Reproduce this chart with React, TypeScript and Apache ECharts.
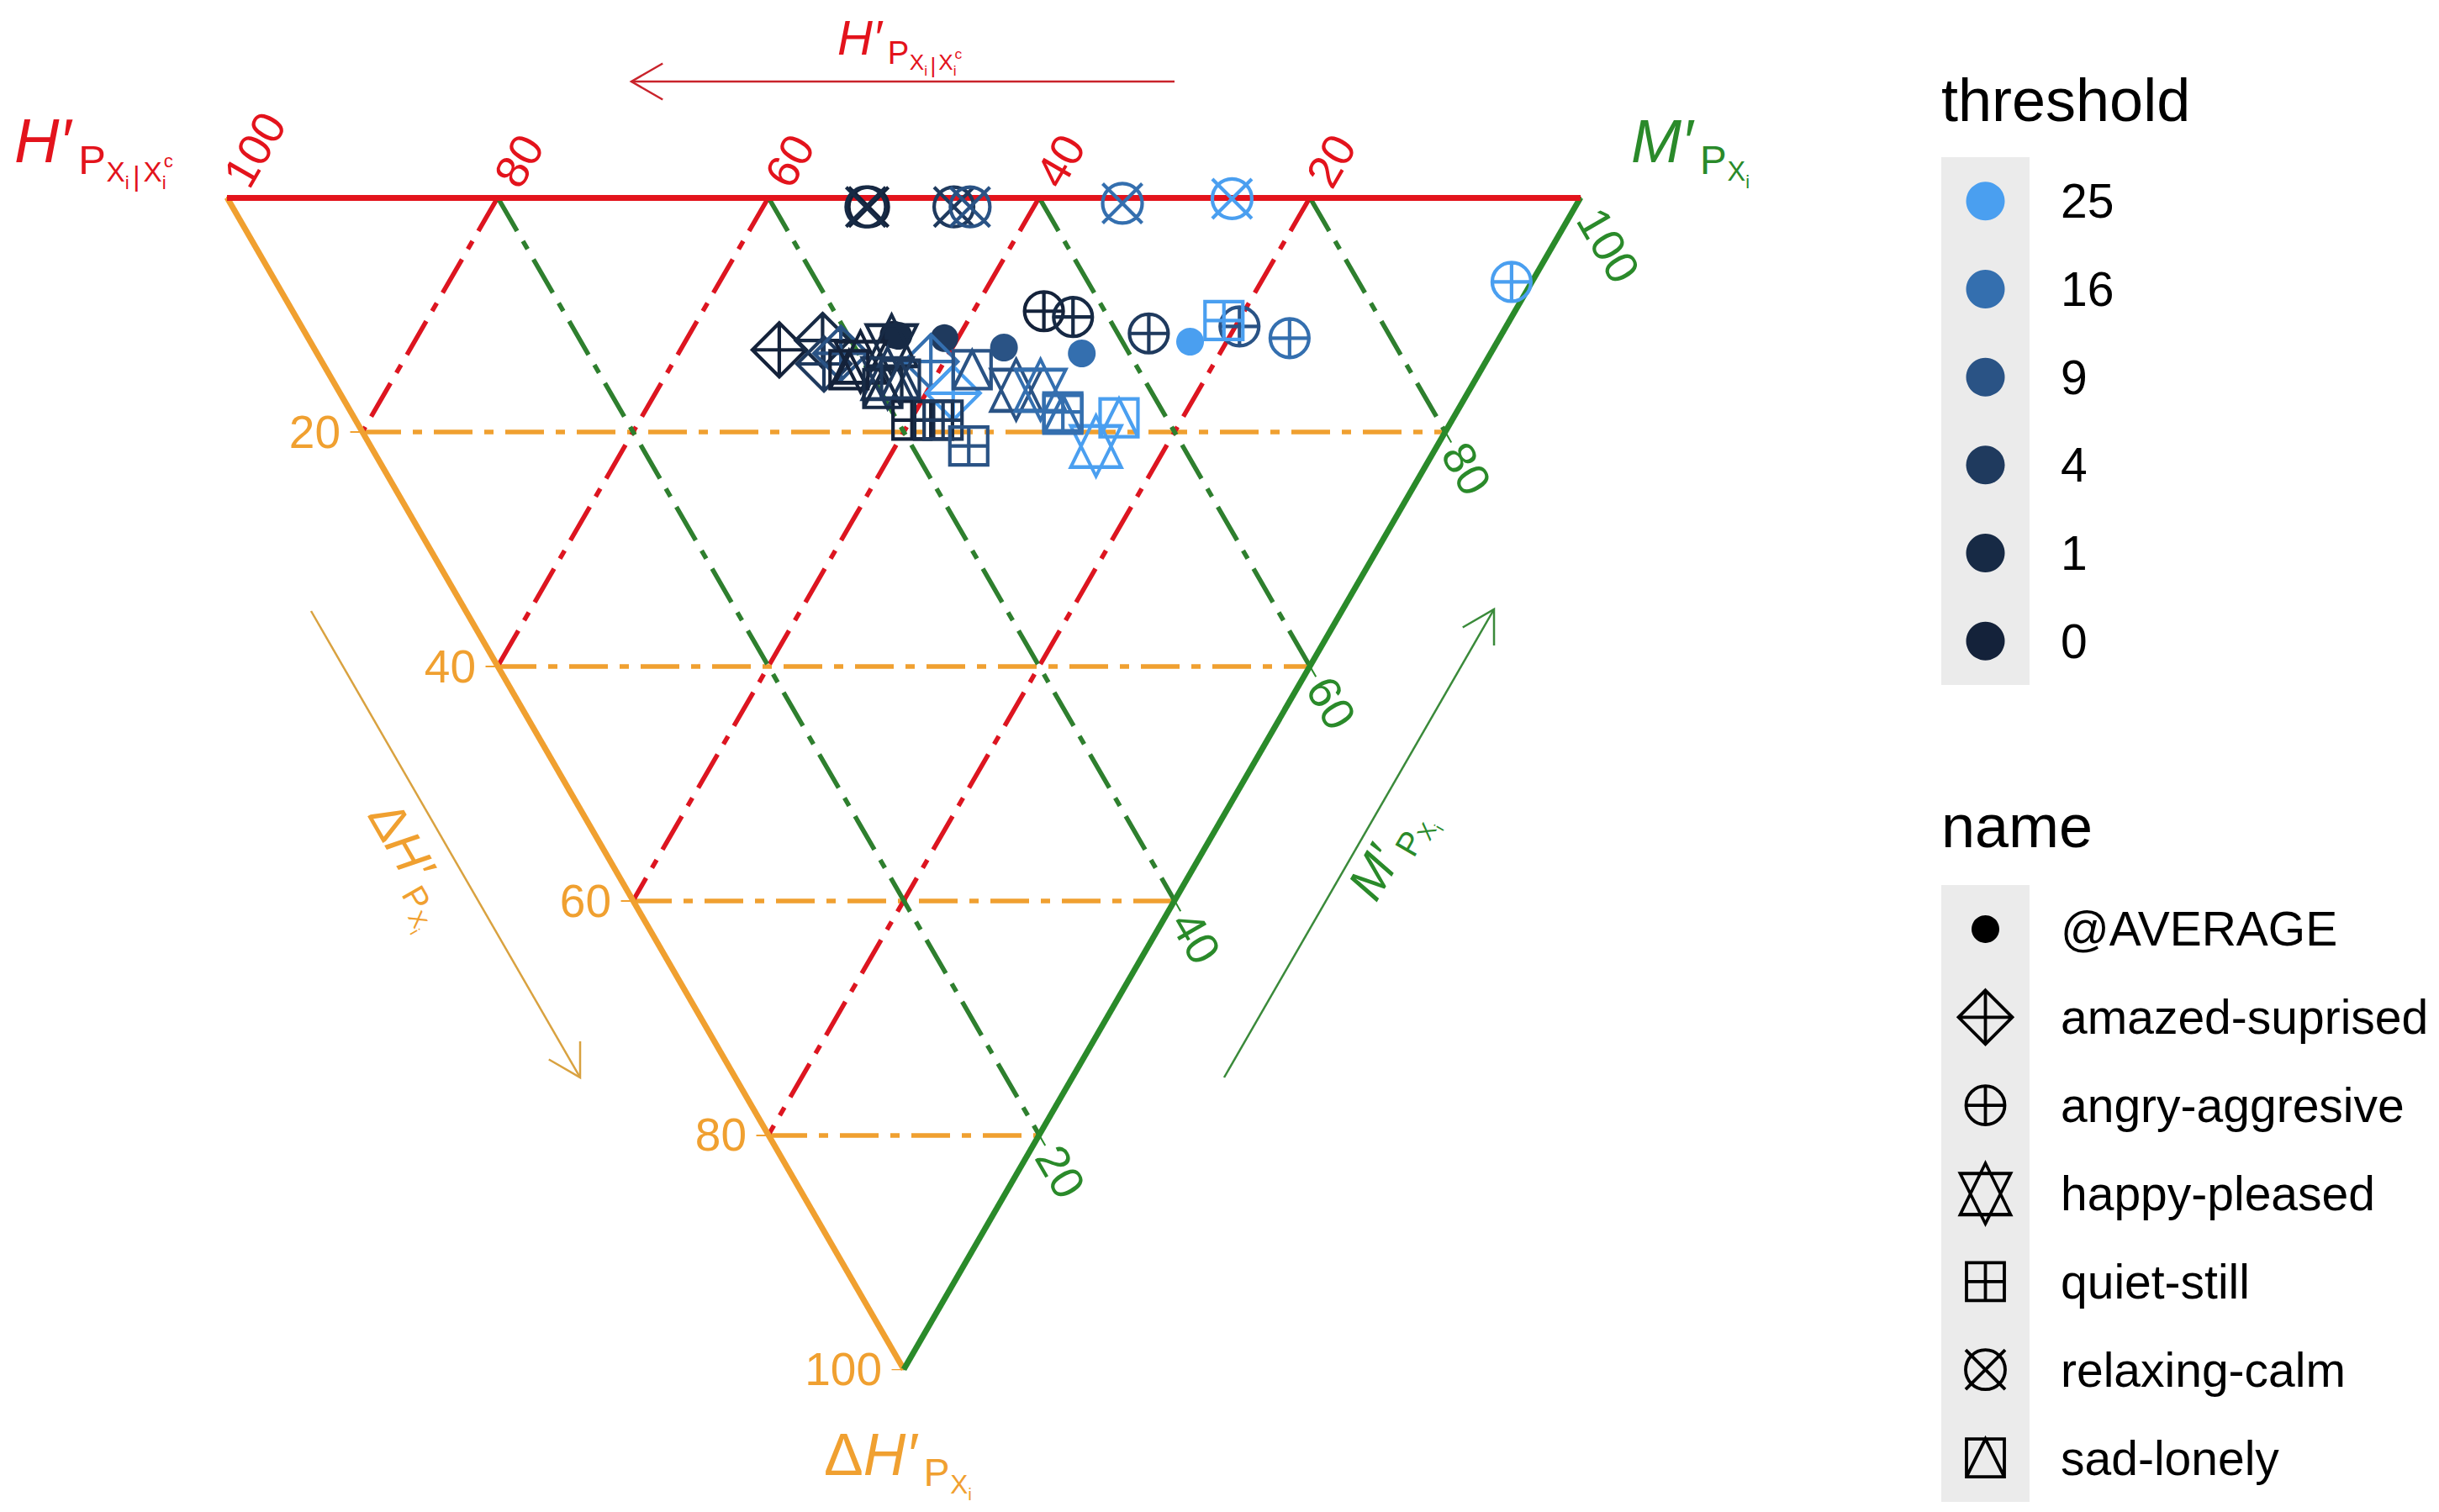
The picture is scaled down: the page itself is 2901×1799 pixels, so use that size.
import React, { useEffect, useRef } from "react";
import * as echarts from "echarts";

// ---------------- data ----------------
const thresholds = [0, 1, 4, 9, 16, 25];
const thresholdColors = ["#14223A", "#172A45", "#1F3A5E", "#2A5385", "#346FAF", "#4A9FF0"];
const names = [
  "@AVERAGE",
  "amazed-suprised",
  "angry-aggresive",
  "happy-pleased",
  "quiet-still",
  "relaxing-calm",
  "sad-lonely",
];

// each row: [H'(P_Xi|Xi^c), M'(P_Xi), ΔH'(P_Xi)] in %, one row per threshold (0,1,4,9,16,25)
const averageVals = [
  [44.9, 43.4, 11.7],
  [44.5, 43.7, 11.8],
  [41.0, 47.0, 12.0],
  [36.2, 51.0, 12.8],
  [30.2, 56.5, 13.3],
  [22.7, 65.0, 12.3],
];
const amazedVals = [
  [52.7, 34.3, 13.0],
  [49.9, 37.9, 12.2],
  [48.8, 37.0, 14.2],
  [48.0, 38.7, 13.3],
  [41.0, 45.0, 14.0],
  [38.0, 45.3, 16.7],
];
const angryVals = [
  [34.8, 55.5, 9.7],
  [32.4, 57.4, 10.2],
  [26.1, 62.3, 11.6],
  [19.7, 69.3, 11.0],
  [15.5, 72.5, 12.0],
  [1.5, 91.3, 7.2],
];
const happyVals = [
  [46.2, 39.8, 14.0],
  [44.6, 42.8, 12.6],
  [43.5, 41.1, 15.4],
  [33.5, 50.1, 16.4],
  [31.7, 51.9, 16.4],
  [25.2, 53.6, 21.2],
];
const quietVals = [
  [39.9, 41.1, 19.0],
  [38.3, 42.7, 19.0],
  [37.6, 43.4, 19.0],
  [34.6, 44.2, 21.2],
  [29.1, 52.6, 18.3],
  [21.1, 68.4, 10.5],
];
const relaxVals = [
  [52.2, 47.0, 0.8],
  [52.4, 46.8, 0.8],
  [45.9, 53.3, 0.8],
  [44.7, 54.5, 0.8],
  [33.6, 65.9, 0.5],
  [25.7, 74.2, 0.1],
];
const sadVals = [
  [46.7, 38.6, 14.7],
  [43.4, 40.3, 16.3],
  [42.5, 42.0, 15.5],
  [37.6, 47.7, 14.7],
  [29.0, 52.5, 18.5],
  [24.7, 56.5, 18.8],
];
const seriesValues = [averageVals, amazedVals, angryVals, happyVals, quietVals, relaxVals, sadVals];

const gridTicks = [20, 40, 60, 80];
const labelTicks = [20, 40, 60, 80, 100];
const allTicks = [0, 20, 40, 60, 80, 100];

// ---------------- style ----------------
const FONT = '"Liberation Sans", Arial, Helvetica, sans-serif';
const RED = "#E3131C";
const ORANGE = "#F0A030";
const GREEN = "#2A8A2A";
const RED_DASH = "#DD1520";
const ORANGE_DASH = "#F0A030";
const GREEN_DASH = "#2E7F2E";
const DASH = [46, 14, 11, 14];
const STROKE = 4.2;

const CIRC =
  "M100 50 C100 77.6 77.6 100 50 100 C22.4 100 0 77.6 0 50 C0 22.4 22.4 0 50 0 C77.6 0 100 22.4 100 50 Z";
const symbolDefs: Record<string, { symbol: string; size: number | number[]; filled: boolean }> = {
  "@AVERAGE": { symbol: "circle", size: 33, filled: true },
  "amazed-suprised": { symbol: "path://M50 0 L100 50 L50 100 L0 50 Z M50 0 L50 100 M0 50 L100 50", size: 64, filled: false },
  "angry-aggresive": { symbol: "path://" + CIRC + " M50 0 L50 100 M0 50 L100 50", size: 46, filled: false },
  "happy-pleased": { symbol: "path://M50 0 L100 85 L0 85 Z M0 17 L100 17 L50 100 Z", size: [60, 72], filled: false },
  "quiet-still": { symbol: "path://M0 0 L100 0 L100 100 L0 100 Z M50 0 L50 100 M0 50 L100 50", size: 45, filled: false },
  "relaxing-calm": { symbol: "path://" + CIRC + " M0 0 L100 100 M100 0 L0 100", size: 47, filled: false },
  "sad-lonely": { symbol: "path://M0 0 L100 0 L100 100 L0 100 Z M0 100 L50 0 L100 100", size: 45, filled: false },
};

// ---------------- geometry ----------------
const GL = 270;
const GT = 235;
const GW = 1610;
const SQ = Math.sqrt(3) / 2;
const GH = GW * SQ;
const S = GW / 100;

function toXY(h: number, m: number, d: number): number[] {
  const s = h + m + d;
  const mm = (m / s) * 100;
  const dd = (d / s) * 100;
  return [mm + dd / 2, dd * SQ];
}
function toPx(p: number[]): number[] {
  return [GL + p[0] * S, GT + p[1] * S];
}

let measureCtx: CanvasRenderingContext2D | null = null;
function tw(t: string, size: number, it: boolean): number {
  if (!measureCtx) measureCtx = document.createElement("canvas").getContext("2d");
  measureCtx!.font = `${it ? "italic " : ""}${size}px ${FONT}`;
  return measureCtx!.measureText(t).width;
}

function buildMath(main: [string, boolean][], cond: boolean, F: number, color: string) {
  const items: any[] = [];
  let x = 0;
  const put = (t: string, size: number, it: boolean, px: number, base: number) => {
    items.push({
      type: "text",
      x: px,
      y: base - 0.35 * size,
      silent: true,
      style: {
        text: t,
        fill: color,
        font: `${it ? "italic " : ""}${size}px ${FONT}`,
        align: "left",
        verticalAlign: "middle",
      },
    });
    return tw(t, size, it);
  };
  for (const [t, it] of main) x += put(t, F, it, x, 0);
  x += 0.12 * F;
  x += put("P", 0.66 * F, false, x, 0.19 * F);
  x += 0.01 * F;
  x += put("X", 0.45 * F, false, x, 0.31 * F);
  x += put("i", 0.3 * F, false, x, 0.43 * F);
  if (cond) {
    x += 0.06 * F;
    x += put("|", 0.45 * F, false, x, 0.38 * F);
    x += 0.05 * F;
    x += put("X", 0.45 * F, false, x, 0.31 * F);
    const wi = put("i", 0.3 * F, false, x, 0.43 * F);
    const wc = put("c", 0.3 * F, false, x + 0.03 * F, 0.08 * F);
    x += Math.max(wi, wc + 0.03 * F);
  }
  return { items, width: x };
}

function mathAt(main: [string, boolean][], cond: boolean, F: number, color: string, x: number, y: number) {
  const m = buildMath(main, cond, F, color);
  return { type: "group", x, y, children: m.items };
}
function mathRotated(
  main: [string, boolean][],
  cond: boolean,
  F: number,
  color: string,
  cx: number,
  cy: number,
  rotation: number
) {
  const m = buildMath(main, cond, F, color);
  const kids = m.items.map((it: any) => ({ ...it, x: it.x - m.width / 2, y: it.y + 0.28 * F }));
  return { type: "group", x: cx, y: cy, rotation, children: kids };
}

function arrow(x1: number, y1: number, x2: number, y2: number, color: string, width: number) {
  const len = Math.hypot(x2 - x1, y2 - y1);
  const ux = (x1 - x2) / len;
  const uy = (y1 - y2) / len;
  const hl = 43;
  const a = Math.PI / 6;
  const r1 = [x2 + hl * (ux * Math.cos(a) - uy * Math.sin(a)), y2 + hl * (ux * Math.sin(a) + uy * Math.cos(a))];
  const r2 = [x2 + hl * (ux * Math.cos(-a) - uy * Math.sin(-a)), y2 + hl * (ux * Math.sin(-a) + uy * Math.cos(-a))];
  return [
    { type: "line", silent: true, shape: { x1, y1, x2, y2 }, style: { stroke: color, lineWidth: width } },
    {
      type: "polyline",
      silent: true,
      shape: { points: [r1, [x2, y2], r2] },
      style: { stroke: color, lineWidth: width, fill: null },
    },
  ];
}

function buildOption() {
  const seg = (a: number[], b: number[]) => ({ coords: [a, b] });
  const redGrid = gridTicks.map((t) => seg(toXY(t, 100 - t, 0), toXY(t, 0, 100 - t)));
  const greenGrid = gridTicks.map((t) => seg(toXY(100 - t, t, 0), toXY(0, t, 100 - t)));
  const orangeGrid = gridTicks.map((t) => seg(toXY(100 - t, 0, t), toXY(0, 100 - t, t)));

  const lineSeries = (data: any[], color: string, width: number, type: any, z: number) => ({
    type: "lines",
    coordinateSystem: "cartesian2d",
    xAxisIndex: 0,
    yAxisIndex: 0,
    silent: true,
    z,
    lineStyle: { color, width, type, opacity: 1, cap: "butt" },
    data,
  });

  const TL = 0.9;
  const redTicks = allTicks.map((t) => {
    const p = toXY(t, 100 - t, 0);
    return seg(p, [p[0] + TL * 0.5, p[1] - TL * SQ]);
  });
  const orangeTicks = allTicks.map((t) => {
    const p = toXY(100 - t, 0, t);
    return seg(p, [p[0] - TL, p[1]]);
  });
  const greenTicks = allTicks.map((t) => {
    const p = toXY(0, t, 100 - t);
    return seg(p, [p[0] + TL * 0.5, p[1] + TL * SQ]);
  });

  const series: any[] = [
    lineSeries(orangeGrid, ORANGE_DASH, 5.5, DASH, 1),
    lineSeries(redGrid, RED_DASH, 5.5, DASH, 1),
    lineSeries(greenGrid, GREEN_DASH, 5.5, DASH, 1),
    lineSeries([seg(toXY(100, 0, 0), toXY(0, 0, 100))], ORANGE, 7, "solid", 2),
    lineSeries([seg(toXY(0, 100, 0), toXY(0, 0, 100))], GREEN, 7, "solid", 2),
    lineSeries([seg(toXY(100, 0, 0), toXY(0, 100, 0))], RED, 7, "solid", 2),
    lineSeries(redTicks, RED, 2, "solid", 2),
    lineSeries(orangeTicks, ORANGE, 2, "solid", 2),
    lineSeries(greenTicks, GREEN, 2, "solid", 2),
  ];

  names.forEach((nm, i) => {
    const def = symbolDefs[nm];
    series.push({
      type: "scatter",
      name: nm,
      xAxisIndex: 0,
      yAxisIndex: 0,
      silent: true,
      z: 5,
      symbol: def.symbol,
      symbolSize: def.size,
      data: seriesValues[i].map((v, k) => ({
        value: toXY(v[0], v[1], v[2]),
        itemStyle: {
          opacity: 1,
          color: def.filled ? thresholdColors[k] : "rgba(0,0,0,0)",
          borderColor: thresholdColors[k],
          borderWidth: def.filled ? 0 : STROKE,
        },
      })),
    });
  });

  // legend keys
  const thrLabels = thresholds.slice().reverse().map(String);
  const thrCols = thresholdColors.slice().reverse();
  series.push({
    type: "scatter",
    xAxisIndex: 1,
    yAxisIndex: 1,
    silent: true,
    symbol: "circle",
    symbolSize: 46,
    data: thrLabels.map((l, k) => ({ value: [0, l], itemStyle: { color: thrCols[k], opacity: 1 } })),
  });
  series.push({
    type: "scatter",
    xAxisIndex: 2,
    yAxisIndex: 2,
    silent: true,
    data: names.map((nm) => {
      const def = symbolDefs[nm];
      return {
        value: [0, nm],
        symbol: def.symbol,
        symbolSize: def.size,
        itemStyle: {
          opacity: 1,
          color: def.filled ? "#000" : "rgba(0,0,0,0)",
          borderColor: "#000",
          borderWidth: def.filled ? 0 : 3.8,
        },
      };
    }),
  });

  // graphic texts
  const graphic: any[] = [];
  const tickFont = `55px ${FONT}`;
  labelTicks.forEach((t) => {
    // top axis (H')
    const pTop = toPx(toXY(t, 100 - t, 0));
    graphic.push({
      type: "text",
      x: pTop[0] + 20 * 0.5,
      y: pTop[1] - 20 * SQ,
      rotation: Math.PI / 3,
      silent: true,
      style: { text: String(t), fill: RED, font: tickFont, align: "left", verticalAlign: "middle" },
    });
    // right axis (M')
    const pR = toPx(toXY(0, t, 100 - t));
    graphic.push({
      type: "text",
      x: pR[0] + 20 * 0.5,
      y: pR[1] + 20 * SQ,
      rotation: -Math.PI / 3,
      silent: true,
      style: { text: String(t), fill: GREEN, font: tickFont, align: "left", verticalAlign: "middle" },
    });
    // left axis (ΔH')
    const pL = toPx(toXY(100 - t, 0, t));
    graphic.push({
      type: "text",
      x: pL[0] - 26,
      y: pL[1],
      silent: true,
      style: { text: String(t), fill: ORANGE, font: tickFont, align: "right", verticalAlign: "middle" },
    });
  });

  // vertex titles
  graphic.push(mathAt([["H′", true]], true, 74, RED, 17, 193));
  graphic.push(mathAt([["M′", true]], false, 72, GREEN, 1940, 193));
  graphic.push(mathAt([["Δ", false], ["H′", true]], false, 70, ORANGE, 980, 1755));

  // arrows + labels
  graphic.push(...arrow(1397, 97, 751, 97, "#C9232B", 2.5));
  graphic.push(mathAt([["H′", true]], true, 58, RED, 996, 65));
  graphic.push(...arrow(370, 727, 690, 1282, "#D9A240", 2.5));
  graphic.push(mathRotated([["Δ", false], ["H′", true]], false, 60, ORANGE, 488, 1027, -Math.PI / 3));
  graphic.push(...arrow(1456, 1282, 1777, 725, "#3A8A3A", 2.5));
  graphic.push(mathRotated([["M′", true]], false, 60, GREEN, 1652, 1016, Math.PI / 3));

  // legend titles
  graphic.push({
    type: "text",
    x: 2309,
    y: 119,
    silent: true,
    style: { text: "threshold", fill: "#000", font: `72px ${FONT}`, align: "left", verticalAlign: "middle" },
  });
  graphic.push({
    type: "text",
    x: 2309,
    y: 983,
    silent: true,
    style: { text: "name", fill: "#000", font: `72px ${FONT}`, align: "left", verticalAlign: "middle" },
  });

  const legendAxisLabel = { margin: 37, fontSize: 57, color: "#000", fontFamily: FONT };

  return {
    animation: false,
    backgroundColor: "#FFFFFF",
    grid: [
      { left: GL, top: GT, width: GW, height: GH, show: false },
      { left: 2309, top: 187, width: 105, height: 628, show: true, backgroundColor: "#EBEBEB", borderWidth: 0 },
      { left: 2309, top: 1053, width: 105, height: 734, show: true, backgroundColor: "#EBEBEB", borderWidth: 0 },
    ],
    xAxis: [
      { gridIndex: 0, type: "value", min: 0, max: 100, show: false },
      { gridIndex: 1, type: "value", min: -1, max: 1, show: false },
      { gridIndex: 2, type: "value", min: -1, max: 1, show: false },
    ],
    yAxis: [
      { gridIndex: 0, type: "value", min: 0, max: 100 * SQ, inverse: true, show: false },
      {
        gridIndex: 1,
        type: "category",
        data: thrLabels,
        inverse: true,
        position: "right",
        axisLine: { show: false },
        axisTick: { show: false },
        splitLine: { show: false },
        axisLabel: legendAxisLabel,
      },
      {
        gridIndex: 2,
        type: "category",
        data: names,
        inverse: true,
        position: "right",
        axisLine: { show: false },
        axisTick: { show: false },
        splitLine: { show: false },
        axisLabel: legendAxisLabel,
      },
    ],
    series,
    graphic,
  };
}

export default function App() {
  const ref = useRef<HTMLDivElement>(null);
  useEffect(() => {
    if (!ref.current) return;
    const chart = echarts.init(ref.current, undefined, { renderer: "svg" });
    chart.setOption(buildOption() as any);
    return () => chart.dispose();
  }, []);
  return (
    <div
      ref={ref}
      style={{ position: "absolute", left: 0, top: 0, width: 2901, height: 1799, background: "#fff" }}
    />
  );
}
